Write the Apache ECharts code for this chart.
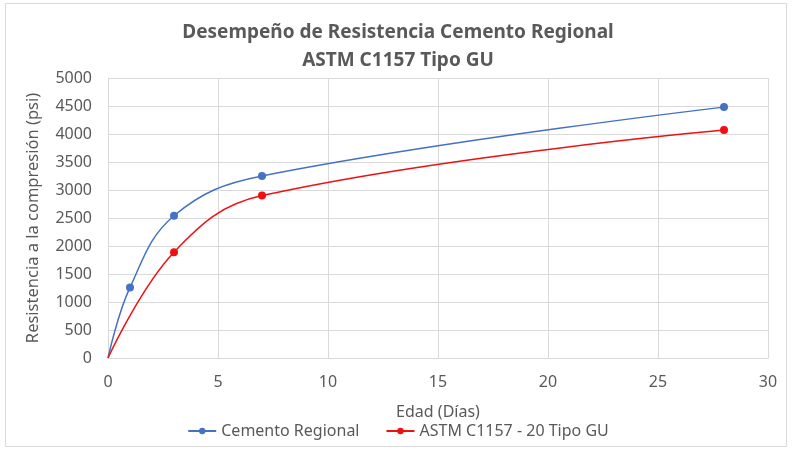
<!DOCTYPE html>
<html>
<head>
<meta charset="utf-8">
<script src="https://cdn.jsdelivr.net/npm/echarts@6/dist/echarts.min.js"></script>
<style>html,body{margin:0;padding:0;background:#fff}#c{width:796px;height:450px}</style>
</head>
<body>
<div id="c"></div>
<script>
var titleLines = ['Desempeño de Resistencia Cemento Regional', 'ASTM C1157 Tipo GU'];
var xName = 'Edad (Días)';
var yName = 'Resistencia a la compresión (psi)';
var regionalDays = [0, 1, 3, 7, 28];
var regionalValues = [0, 1260, 2540, 3250, 4480];
var astmDays = [0, 3, 7, 28];
var astmValues = [0, 1890, 2900, 4070];
var seriesNames = ['Cemento Regional', 'ASTM C1157 - 20 Tipo GU'];

function pairs(xs, ys) {
  return xs.map(function (x, i) {
    var item = { value: [x, ys[i]] };
    if (x === 0) item.symbol = 'none';
    return item;
  });
}

var chart = echarts.init(document.getElementById('c'));
var font = 'Noto Sans';
chart.setOption({
  backgroundColor: '#fff',
  animation: false,
  graphic: [{
    type: 'rect', shape: { x: 5.5, y: 3.5, width: 781, height: 443 },
    style: { fill: 'none', stroke: '#d9d9d9', lineWidth: 1 }
  }],
  title: {
    text: titleLines.join('\n'),
    left: 'center', top: 14,
    textStyle: { fontFamily: font, fontSize: 19, fontWeight: 'bold', color: '#595959', lineHeight: 28 }
  },
  grid: { left: 108, right: 28, top: 78, bottom: 92 },
  xAxis: {
    type: 'value', min: 0, max: 30, interval: 5,
    name: xName, nameLocation: 'middle', nameGap: 46,
    nameTextStyle: { fontFamily: font, fontSize: 16, color: '#595959' },
    axisLine: { show: true, lineStyle: { color: '#d9d9d9' } },
    axisTick: { show: false },
    axisLabel: { fontFamily: font, fontSize: 16, color: '#595959', margin: 16 },
    splitLine: { show: true, lineStyle: { color: '#d9d9d9' } }
  },
  yAxis: {
    type: 'value', min: 0, max: 5000, interval: 500,
    name: yName, nameLocation: 'middle', nameGap: 66,
    nameTextStyle: { fontFamily: font, fontSize: 16.5, color: '#595959' },
    axisLine: { show: false }, axisTick: { show: false },
    axisLabel: {
      fontFamily: font, fontSize: 16, color: '#595959', margin: 16,
      formatter: function (v) { return String(v); }
    },
    splitLine: { show: true, lineStyle: { color: '#d9d9d9' } }
  },
  legend: {
    bottom: 6, left: 'center', itemGap: 26, itemWidth: 28, itemHeight: 8,
    textStyle: { fontFamily: font, fontSize: 16, color: '#595959' },
    data: seriesNames
  },
  series: [{
    name: seriesNames[0], type: 'line', smooth: 0.4,
    data: pairs(regionalDays, regionalValues),
    symbol: 'circle', symbolSize: 8,
    itemStyle: { color: '#4472C4' },
    lineStyle: { color: '#4472C4', width: 1.5 }
  }, {
    name: seriesNames[1], type: 'line', smooth: 0.4,
    data: pairs(astmDays, astmValues),
    symbol: 'circle', symbolSize: 8,
    itemStyle: { color: '#EE1111' },
    lineStyle: { color: '#EE1111', width: 1.5 }
  }]
});
</script>
</body>
</html>
